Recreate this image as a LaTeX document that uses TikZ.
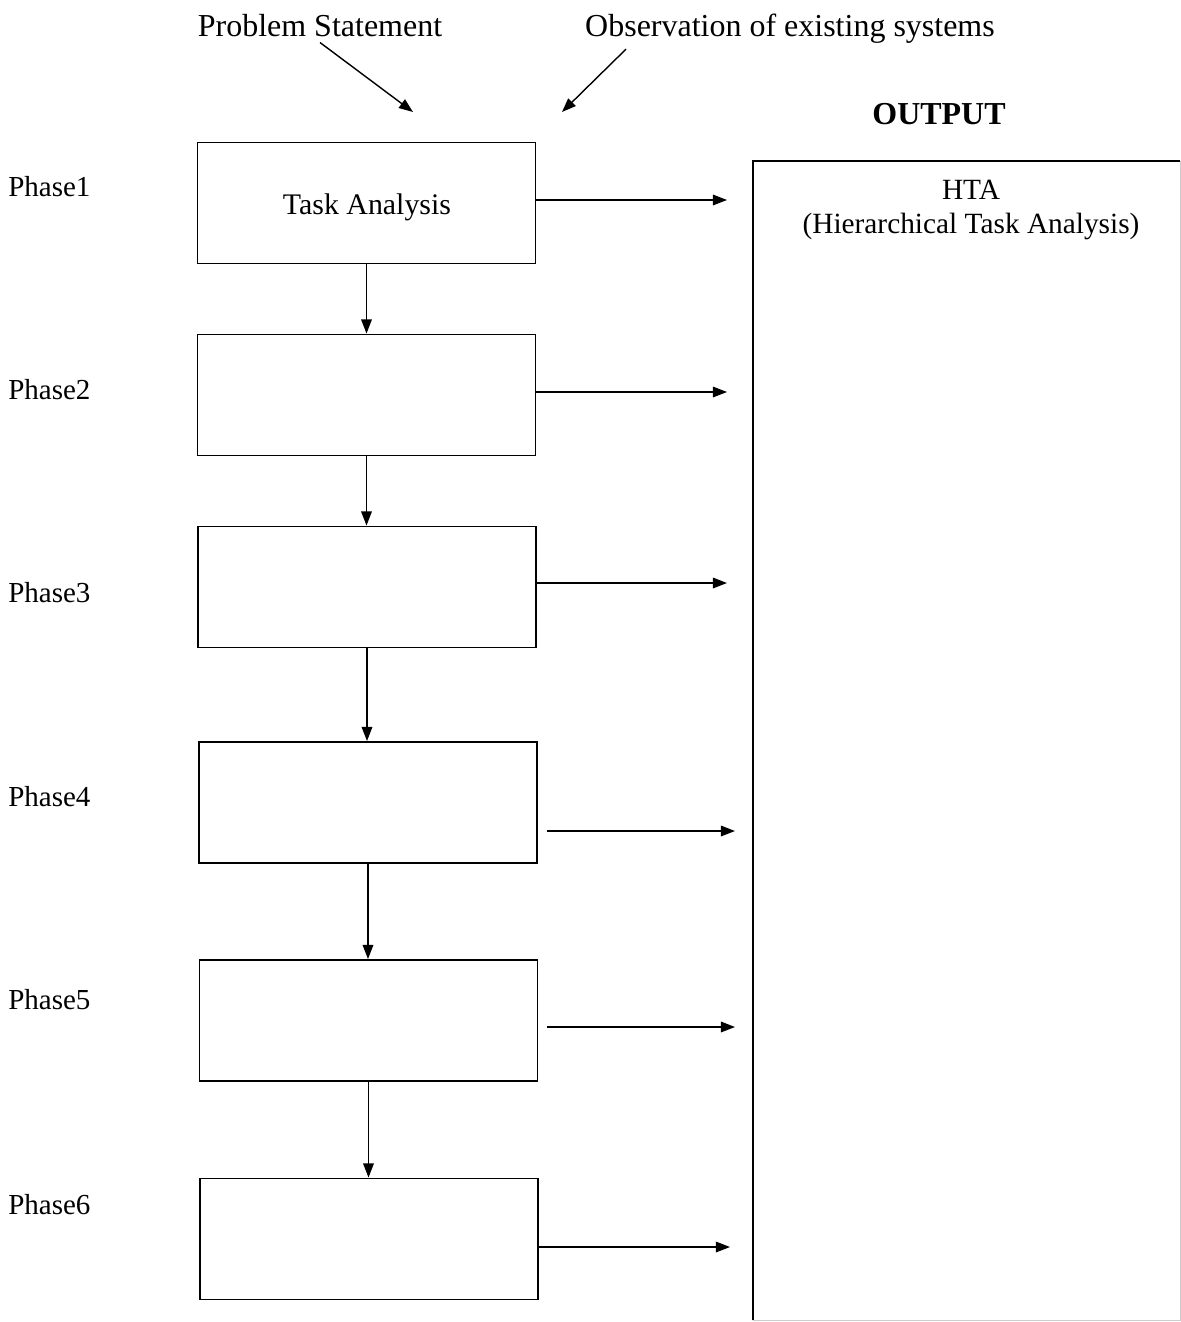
\documentclass[tikz,border=0pt]{standalone}
\usepackage{fontspec}
\setmainfont{Liberation Serif}
\usetikzlibrary{arrows.meta}

\begin{document}
\begin{tikzpicture}[
  box/.style={draw,line width=1.1pt,minimum width=6.76cm,minimum height=2.42cm,inner sep=0pt},
  flow/.style={line width=0.8pt,-{Triangle[length=8pt,width=6pt]}},
  lbl/.style={font=\fontsize{16.5}{20}\selectfont},
  big/.style={font=\fontsize{18.2}{22}\selectfont}]
  \useasboundingbox (0,0) rectangle (23.62,-26.44);
  % inputs
  \node[big,anchor=base] (ps) at (6.4,-0.72) {Problem Statement};
  \node[big,anchor=base] (obs) at (15.8,-0.72) {Observation of existing systems};
  \coordinate (psTip) at (8.26,-2.24);
  \coordinate (obsTip) at (11.24,-2.24);
  \draw[flow] (ps.south) -- (psTip);
  \draw[flow] ([xshift=0.94cm]obs.south west) -- (obsTip);
  % phases
  \node[box] (b1) at (7.33,-4.06) {};
  \node[font=\fontsize{17}{20}\selectfont] (ta) at (7.34,-4.14) {Task Analysis};
  \foreach \i/\x/\y in {2/7.33/-7.90,3/7.34/-11.74,4/7.36/-16.05,5/7.37/-20.41,6/7.38/-24.78}
    \node[box] (b\i) at (\x,\y) {};
  \foreach \i/\y in {1/-3.74,2/-7.8,3/-11.86,4/-15.94,5/-20.0,6/-24.1}
    \node[lbl,anchor=west,inner sep=0pt] (ph\i) at (0.16,\y) {Phase\i};
  \foreach \i [evaluate=\i as \j using int(\i+1)] in {1,...,5}
    \draw[flow] (b\i.south) -- (b\i.south |- b\j.north);
  % to output
  \foreach \i/\x/\y/\g in {1/14.54/-4.0/0,2/14.54/-7.84/0,3/14.54/-11.66/0,4/14.7/-16.62/0.18,5/14.7/-20.54/0.18,6/14.6/-24.94/0}{
    \coordinate (o\i) at (\x,\y);
    \draw[flow,shorten <=\g cm] (b\i.east |- o\i) -- (o\i);
  }
  % output box
  \node[big,font=\bfseries\fontsize{18.2}{22}\selectfont] (outlbl) at (18.78,-2.28) {OUTPUT};
  \node[minimum width=8.54cm,minimum height=23.18cm,inner sep=0pt] (outbox) at (19.33,-14.81) {};
  \draw[line width=1.1pt] (outbox.south west) -- (outbox.north west) -- (outbox.north east);
  \draw[gray!40,line width=0.6pt] (outbox.north east) -- (outbox.south east) -- (outbox.south west);
  \node[lbl,align=center,font=\fontsize{16.7}{19.4}\selectfont] (hta) at (19.42,-4.2) {HTA\\(Hierarchical Task Analysis)};
\end{tikzpicture}
\end{document}
